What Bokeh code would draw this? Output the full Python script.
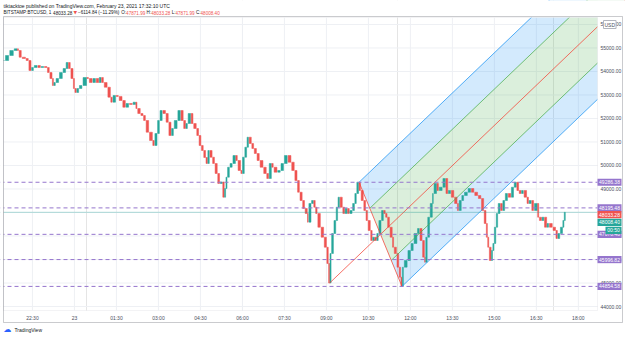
import pandas as pd
from bokeh.plotting import figure
from bokeh.models import ColumnDataSource, Span, Label, BoxAnnotation, Range1d
from bokeh.embed import file_html
from bokeh.resources import INLINE

# ---------------- data ----------------
times = ["21:30","21:39","21:49","21:57","22:00","22:06","22:15","22:21","22:27","22:32",
         "22:40","22:47","22:54","23:01","23:06","23:12","23:15","23:19","23:26","23:34",
         "23:41","23:46","23:51","23:57","00:00","00:04","00:09","00:16","00:26","00:30",
         "00:38","00:45","00:52","00:57","01:02","01:10","01:17","01:21","01:28","01:34",
         "01:42","01:49","01:56","02:04","02:11","02:14","02:21","02:27","02:32","02:39",
         "02:47","02:51","02:57","03:02","03:08","03:15","03:21","03:27","03:32","03:40",
         "03:47","03:53","03:58","04:02","04:09","04:14","04:21","04:26","04:31","04:36",
         "04:41","04:45","04:49","04:55","05:00","05:06","05:11","05:17","05:21","05:24",
         "05:27","05:32","05:38","05:45","05:49","05:56","05:59","06:04","06:09","06:13",
         "06:19","06:24","06:30","06:36","06:44","06:51","06:56","07:02","07:06","07:14",
         "07:21","07:28","07:36","07:44","07:51","07:57","08:02","08:08","08:13","08:19",
         "08:21","08:27","08:32","08:36","08:40","08:47","08:54","09:00","09:04","09:07",
         "09:10","09:15","09:20","09:24","09:28","09:34","09:39","09:44","09:49","09:55",
         "10:00","10:04","10:09","10:13","10:19","10:24","10:28","10:34","10:38","10:43",
         "10:47","10:51","10:57","11:02","11:06","11:10","11:15","11:21","11:24","11:30",
         "11:35","11:39","11:42","11:45","11:53","12:00","12:06","12:14","12:19","12:25",
         "12:30","12:32","12:36","12:41","12:47","12:49","12:56","13:00","13:08","13:15",
         "13:20","13:26","13:33","13:40","13:43","13:49","13:54","14:02","14:09","14:16",
         "14:24","14:31","14:37","14:42","14:45","14:48","14:53","14:56","14:59","15:03",
         "15:07","15:12","15:17","15:22","15:28","15:35","15:41","15:47","15:52","15:57",
         "16:02","16:09","16:13","16:19","16:24","16:32","16:35","16:41","16:46","16:52",
         "16:56","17:04","17:11","17:15","17:20","17:26","17:29","17:32"]
closes = [54467,54680,54893,54965,54893,54608,54552,54467,54042,54169,
          54255,54169,54212,54169,53957,53701,53404,53531,53701,53957,
          54127,54382,54127,53701,53276,53106,53276,53404,53744,53701,
          53531,53701,53531,53744,53531,53331,52906,52693,52978,52940,
          52765,52480,52638,52600,52693,52425,52212,52127,51914,51416,
          51063,50851,51361,51914,52340,52212,51842,51276,51574,51914,
          52340,51914,51574,51787,52212,51787,51574,51276,50851,50638,
          50340,50085,50638,50353,50085,49659,49234,49300,48651,49021,
          49502,49927,50085,50425,50212,49787,49659,50353,50778,51204,
          50936,50723,50510,50212,49927,49659,49446,50085,49927,49714,
          49787,50085,50425,50140,49787,49361,48863,48510,48170,47957,
          47587,48383,48510,48225,47957,47374,46949,46523,45830,45000,
          46255,47106,47659,48225,48651,48225,47957,48170,47957,48085,
          48383,48808,49286,48936,48510,48085,47659,47234,46808,46949,
          46808,47106,47659,48085,47957,47800,47374,46949,46523,46255,
          45672,45247,44860,45672,45957,46383,46681,47106,47319,46808,
          46098,45885,46949,47800,48383,48808,49234,48936,49076,49446,
          48808,48936,48651,48383,48085,48510,48723,48863,49021,48863,
          48723,48595,48085,47532,46949,46523,45957,46383,46681,47374,
          47957,48383,48085,48510,48808,48651,49076,49289,48936,48808,
          48936,48651,48383,48510,48085,48383,47800,47659,47800,47374,
          47532,47374,47234,46893,47106,47374,47659,48008.40]

h_levels = [49286.38, 48195.48, 47070.48, 45996.82, 44854.58]
h_level_labels = ["49286.38", "48195.48", "47070.48", "45996.82", "44854.58"]

price_ticks = [44000, 45000, 46000, 47000, 48000, 49000, 50000, 51000, 52000,
               53000, 54000, 55000, 56000]
time_ticks = ["22:30", "00:00", "01:30", "03:00", "04:30", "06:00", "07:30",
              "09:00", "10:30", "12:00", "13:30", "15:00", "16:30", "18:00"]
time_tick_labels = ["22:30", "23", "01:30", "03:00", "04:30", "06:00", "07:30",
                    "09:00", "10:30", "12:00", "13:30", "15:00", "16:30", "18:00"]

pitch_times = ["09:07", "10:10", "11:42"]
pitch_prices = [45000.0, 49286.38, 44854.58]
pitch_levels = [1.0, 0.5, 0.0, -0.5, -1.0]

last_price = 48033.28
close_price = 48008.40
open_price = 47871.99
high_price = 48033.28
low_price = 47871.99
change = -6114.84
change_pct = -11.29
countdown = "00:50"

x_start, x_end = "21:28", "18:41"     # visible time span of the chart pane
y_start, y_end = 43830, 56297         # visible price span of the chart pane


def ts(s):
    h, m = map(int, s.split(":"))
    day = 22 if h >= 21 else 23
    return pd.Timestamp(2021, 2, day, h, m).value / 1e6


UP, DOWN = "#26a69a", "#ef5350"
PURPLE = "#9575cd"
INK = "#131722"
AXT = "#4a4e5a"
FONT = "Liberation Sans"
FS = "5px"

# ---------------- layout (canvas pixels) ----------------
W, H = 625, 337
L, R, T, B = 3, 597, 17, 310        # chart pane
tx0, tx1 = ts(x_start), ts(x_end)
tpx = (tx1 - tx0) / (R - L)
ppx = (y_end - y_start) / (B - T)

p = figure(width=W, height=H, output_backend="svg", toolbar_location=None,
           x_axis_location=None, y_axis_location=None,
           x_range=Range1d(tx0 - L * tpx, tx1 + (W - R) * tpx),
           y_range=Range1d(y_start - (H - B) * ppx, y_end + T * ppx),
           min_border=0, min_border_left=0, min_border_right=0,
           min_border_top=0, min_border_bottom=0,
           background_fill_color="white", border_fill_color="white",
           outline_line_color=None)

xt = [ts(t) for t in time_ticks]
# grid
p.segment(x0=xt, x1=xt, y0=[y_start] * len(xt), y1=[y_end] * len(xt),
          line_color="#eef0f4", line_width=1)
p.segment(x0=[tx0] * len(price_ticks), x1=[tx1] * len(price_ticks),
          y0=price_ticks, y1=price_ticks, line_color="#eef0f4", line_width=1)

# ---------------- pitchfork ----------------
tA, tB, tC = [ts(t) for t in pitch_times]
pA, pB, pC = pitch_prices
tM, pM = (tB + tC) / 2, (pB + pC) / 2
slope = (pM - pA) / (tM - tA)
t_far = tx1 + 3600e3


def start_pt(f):
    return tM + f * (tB - tM), pM + f * (pB - pM)


def end_pt(f):
    st, sp = start_pt(f)
    return t_far, sp + slope * (t_far - st)


bands = [(1.0, 0.5, "#2196f3"), (0.5, -0.5, "#4caf50"), (-0.5, -1.0, "#2196f3")]
for f1, f2, col in bands:
    s1, e1, e2, s2 = start_pt(f1), end_pt(f1), end_pt(f2), start_pt(f2)
    p.patch([s1[0], e1[0], e2[0], s2[0]], [s1[1], e1[1], e2[1], s2[1]],
            fill_color=col, fill_alpha=0.2, line_color=None)

# ---------------- horizontal levels ----------------
for lv in h_levels:
    p.add_layout(Span(location=lv, dimension="width", line_color=PURPLE,
                      line_dash="4 3", line_width=1))
p.add_layout(Span(location=close_price, dimension="width", line_color=UP,
                  line_alpha=0.35, line_width=1))

# ---------------- candles (body from previous close to close) ----------------
xs = [ts(t) for t in times]
opens = [closes[0]] + closes[:-1]
prev_x = [xs[0] - 4 * 60e3] + xs[:-1]
src = ColumnDataSource(dict(
    left=[a + 0.25 * (b - a) for a, b in zip(prev_x, xs)],
    right=xs,
    top=[max(o, c) for o, c in zip(opens, closes)],
    bottom=[min(o, c) for o, c in zip(opens, closes)],
    color=[UP if c >= o else DOWN for o, c in zip(opens, closes)],
))
p.quad(left="left", right="right", top="top", bottom="bottom", source=src,
       fill_color="color", line_color="color", line_width=0.5)

line_cols = {1.0: "#2196f3", 0.5: "#4caf50", -0.5: "#4caf50", -1.0: "#2196f3"}
for f in pitch_levels:
    if f == 0.0:
        s, col = (tA, pA), "#f44336"
    else:
        s, col = start_pt(f), line_cols[f]
    e = end_pt(f)
    p.line([s[0], e[0]], [s[1], e[1]], line_color=col, line_width=0.9, line_alpha=0.85)
p.line([tB, tC], [pB, pC], line_color="#f44336", line_width=0.9, line_alpha=0.85)


# ---------------- masks & frame (canvas units) ----------------
def cbox(l, r, t, b, **kw):
    p.add_layout(BoxAnnotation(left=l, right=r, top=t, bottom=b, left_units="canvas",
                               right_units="canvas", top_units="canvas",
                               bottom_units="canvas", **kw))


for l, r, t, b in [(0, W, 0, T), (R, W, 0, H), (0, W, B, H), (0, L, 0, H)]:
    cbox(l, r, t, b, fill_color="white", fill_alpha=1, line_color=None)
cbox(L, R, T, B, fill_alpha=0, fill_color=None, line_color="#d6d8de", line_width=1)
cbox(L, 622, 16, 322, fill_alpha=0, fill_color=None, line_color="#50535e", line_width=1)


def clabel(x, y, text, color=INK, align="left", size=FS, font=FONT, **kw):
    p.add_layout(Label(x=x, y=y, x_units="canvas", y_units="canvas", text=text,
                       text_font=font, text_font_size=size, text_color=color,
                       text_align=align, text_baseline="middle", **kw))


# price axis labels
for v in price_ticks:
    p.add_layout(Label(x=600, y=v, x_units="canvas", y_units="data", text=f"{v:.2f}",
                       text_font=FONT, text_font_size=FS, text_color=AXT,
                       text_baseline="middle", text_align="left"))
# time axis labels
for v, lab in zip(xt, time_tick_labels):
    p.add_layout(Label(x=v, y=317, x_units="data", y_units="canvas", text=lab,
                       text_font=FONT, text_font_size=FS, text_color=AXT,
                       text_baseline="middle", text_align="center"))


# price-axis tags: opaque box + white text
def tag(price, text, bg, shift_px=0, x0=597, x1=621):
    yc = price - shift_px * ppx
    p.add_layout(BoxAnnotation(left=x0, right=x1, top=yc + 3.6 * ppx, bottom=yc - 3.6 * ppx,
                               left_units="canvas", right_units="canvas",
                               fill_color=bg, fill_alpha=1, line_color=None))
    p.add_layout(Label(x=(x0 + x1) / 2, y=yc, x_units="canvas", y_units="data",
                       text=text, text_font=FONT, text_font_size=FS, text_color="white",
                       text_baseline="middle", text_align="center"))


for lv, lab in zip(h_levels, h_level_labels):
    tag(lv, lab, PURPLE)
tag(last_price, f"{last_price:.2f}", DOWN, 3)
tag(close_price, f"{close_price:.2f}", UP, 10)
tag(close_price, countdown, UP, 18, x0=605)

clabel(603, 24, "USD", color=AXT, background_fill_color="white",
       border_line_color="#b2b5be", padding=1)

# header line 1
clabel(3, 5, "tiktacktoe published on TradingView.com, February 23, 2021 17:32:10 UTC")

# header line 2 : laid out piece by piece (approximate glyph advance widths, em)
ADV = {**{d: 0.556 for d in "0123456789"}, ".": 0.278, ":": 0.278, ",": 0.278,
       " ": 0.278, "(": 0.333, ")": 0.333, "%": 0.889, "−": 0.584, "▼": 0.7,
       "B": 0.667, "I": 0.278, "T": 0.611, "S": 0.667, "A": 0.667, "M": 0.833,
       "P": 0.667, "C": 0.722, "U": 0.722, "D": 0.722, "O": 0.778, "H": 0.722,
       "L": 0.556}
H2 = 4.6


def adv(s):
    return sum(ADV.get(ch, 0.6) for ch in s) * H2


pieces = [("BITSTAMP:BTCUSD, 1 ", INK), (f"{last_price:.2f} ", INK), ("▼ ", DOWN),
          (f"−{abs(change):.2f} (−{abs(change_pct):.2f}%) ", INK),
          ("O:", INK), (f"{open_price:.2f} ", DOWN), ("H:", INK), (f"{high_price:.2f} ", DOWN),
          ("L:", INK), (f"{low_price:.2f} ", DOWN), ("C:", INK), (f"{close_price:.2f}", DOWN)]
cx = 3.0
for txt, col in pieces:
    clabel(cx, 12, txt.rstrip(), color=col, size=f"{H2}px",
           font="DejaVu Sans" if txt.startswith("▼") else FONT)
    cx += adv(txt)

# footer logo
clabel(3, 329, "☁", color="#2962ff", size="8px", font="DejaVu Sans")
clabel(14, 329, "TradingView", color=INK)

open("out.html", "w").write(file_html(p, INLINE))
